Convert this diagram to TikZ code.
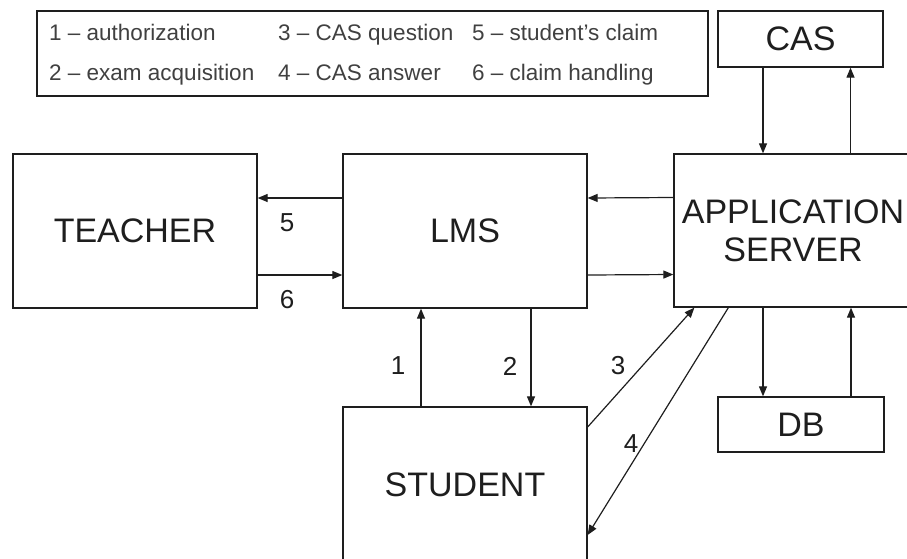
\documentclass[tikz,border=0pt]{standalone}
\usepackage{fontspec}
\setmainfont{Liberation Sans}
\usetikzlibrary{arrows.meta,calc}
\definecolor{ink}{HTML}{1E1E1E}
\begin{document}
\begin{tikzpicture}[x=1pt,y=-1pt,
  box/.style={draw=ink,line width=1.3pt,rectangle,inner sep=0pt,align=center,
    font=\fontsize{34}{38}\selectfont,text=ink},
  arr/.style={draw=ink,line width=1.2pt,-{Triangle[length=10pt,width=8pt]}},
  num/.style={font=\fontsize{26}{28}\selectfont,text=ink,inner sep=0pt},
  leg/.style={font=\fontsize{22.5}{24}\selectfont,text=ink!85,inner sep=0pt,anchor=base west}]
\useasboundingbox (0,0) rectangle (907,558);
% legend
\node[draw=ink,line width=1.3pt,minimum width=671pt,minimum height=85pt,inner sep=0pt] (legend) at (372.5,53.5) {};
\node[leg] (l1) at (49,40) {1 – authorization};
\node[leg] (l2) at (49,80.5) {2 – exam acquisition};
\node[leg] (l3) at (278,40) {3 – CAS question};
\node[leg] (l4) at (278,80.5) {4 – CAS answer};
\node[leg] (l5) at (472,40) {5 – student's claim};
\node[leg] (l6) at (472,80.5) {6 – claim handling};
% boxes
\node[box,minimum width=165pt,minimum height=56pt] (cas) at (800.5,39) {CAS};
\node[box,minimum width=244pt,minimum height=154pt] (tea) at (135,231) {TEACHER};
\node[box,minimum width=244pt,minimum height=154pt] (lms) at (465,231) {LMS};
\node[box,minimum width=238pt,minimum height=153pt] (app) at (793,230.5) {APPLICATION\\SERVER};
\node[box,minimum width=244pt,minimum height=156pt] (stu) at (465,485) {STUDENT};
\node[box,minimum width=166pt,minimum height=55pt] (db) at (801,424.5) {DB};
% arrows
\draw[arr] ([yshift=33pt]lms.west) -- ([yshift=33pt]tea.east);
\draw[arr] ([yshift=-44pt]tea.east) -- ([yshift=-44pt]lms.west);
\draw[arr] ([yshift=33pt]app.west) -- ([yshift=33pt]lms.east);
\draw[arr] ([yshift=-44pt]lms.east) -- ([yshift=-44pt]app.west);
\draw[arr] ([xshift=-44pt]stu.north) -- ([xshift=-44pt]lms.south);
\draw[arr] ([xshift=66pt]lms.south) -- ([xshift=66pt]stu.north);
\draw[arr] ([yshift=58pt]stu.east) -- ([xshift=21pt]app.south west);
\draw[arr] ([xshift=55pt]app.south west) -- ([yshift=-50pt]stu.east);
\draw[arr] ([xshift=-37.5pt]cas.south) -- ([xshift=-37.5pt]cas.south |- app.north);
\draw[arr] ([xshift=50pt]cas.south |- app.north) -- ([xshift=50pt]cas.south);
\draw[arr] ([xshift=-38pt]db.north |- app.south) -- ([xshift=-38pt]db.north);
\draw[arr] ([xshift=50pt]db.north) -- ([xshift=50pt]db.north |- app.south);
% labels
\node[num] (n1) at (398,366) {1};
\node[num] (n2) at (510,366) {2};
\node[num] (n3) at (618,366) {3};
\node[num] (n4) at (631,444) {4};
\node[num] (n5) at (287,223) {5};
\node[num] (n6) at (287,300) {6};
\end{tikzpicture}
\end{document}
